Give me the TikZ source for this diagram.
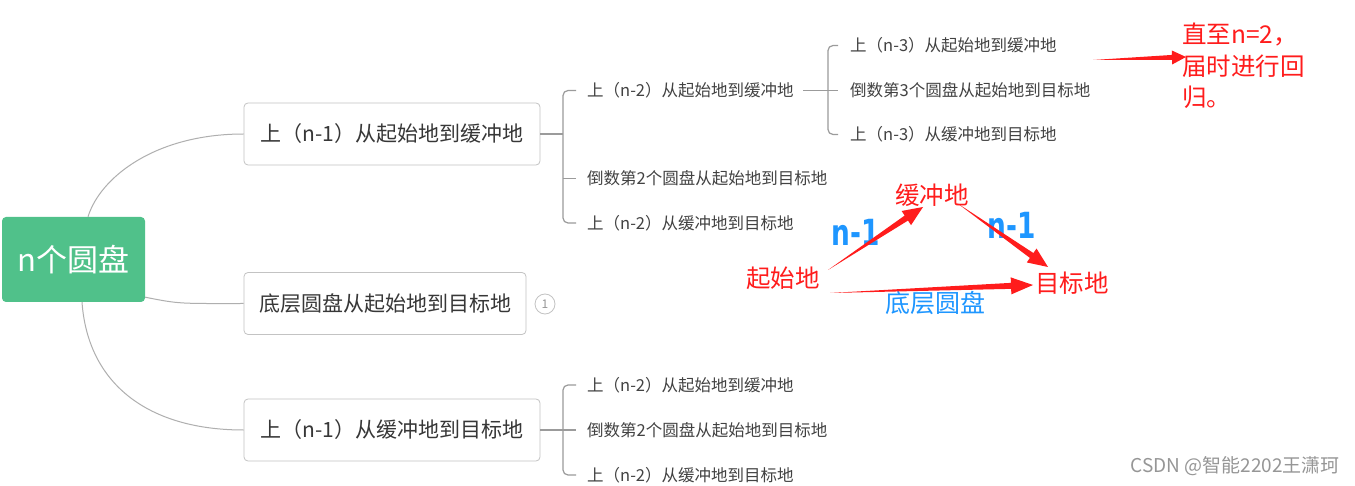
\documentclass[tikz,border=0pt]{standalone}
\usepackage{fontspec}
\setmainfont{Noto Sans CJK SC}
\newfontfamily\handfont{DejaVu Sans}
\usetikzlibrary{calc}
\definecolor{rootgreen}{RGB}{80,193,138}
\definecolor{boxborder}{RGB}{195,195,195}
\definecolor{linegray}{RGB}{175,175,175}
\definecolor{brgray}{RGB}{155,155,155}
\definecolor{txtdark}{RGB}{55,55,55}
\definecolor{txtmid}{RGB}{66,66,66}
\definecolor{annred}{RGB}{255,28,28}
\definecolor{annblue}{RGB}{30,150,255}
\definecolor{wmgray}{RGB}{150,150,150}
\newcommand\fs[1]{\fontsize{#1}{#1}\selectfont}
% tapered arrow: #1 tail, #2 tip, #3 half shaft width, #4 half head width, #5 head length
\newcommand\taperarrow[5]{%
  \coordinate (tH) at ($(#2)!#5!(#1)$);
  \fill[annot] (#1) -- ($(tH)!#3!90:(#2)$) -- ($(tH)!#4!90:(#2)$) -- (#2)
     -- ($(tH)!#4!-90:(#2)$) -- ($(tH)!#3!-90:(#2)$) -- cycle;}
\begin{document}
\begin{tikzpicture}[x=1pt,y=-1pt,
  rootbox/.style={fill=rootgreen, rounded corners=4pt, text=white, font=\fs{31},
    inner sep=0pt, minimum width=143pt, minimum height=85pt},
  topic/.style={draw=boxborder, line width=0.8pt, rounded corners=4pt, fill=white,
    text=txtdark, font=\fs{21}, inner sep=0pt, minimum height=62pt},
  sub/.style={anchor=west, text=txtmid, font=\fs{16.5}, inner sep=0pt},
  curve/.style={draw=linegray, line width=1pt},
  br/.style={draw=brgray, line width=1.2pt},
  annot/.style={fill=annred},
  redtxt/.style={text=annred, font=\fs{24.5}, inner sep=0pt},
  bluetxt/.style={text=annblue, inner sep=0pt, font=\handfont\bfseries\fs{24}},
  badge/.style={circle, draw=boxborder, line width=0.8pt, text=wmgray, font=\fs{12},
    inner sep=0pt, minimum size=20pt},
]
\useasboundingbox (0,0) rectangle (1355,486);
\fill[white] (0,0) rectangle (1355,486);

% root and main topics
\node[rootbox] (root) at (73.5,259.5) {n个圆盘};
\node[topic, minimum width=296pt] (box1) at (392,134) {上（n-1）从起始地到缓冲地};
\node[topic, minimum width=282pt] (box2) at (385,303.5) {底层圆盘从起始地到目标地};
\node[topic, minimum width=296pt] (box3) at (392,430) {上（n-1）从缓冲地到目标地};
\node[badge] (bdg) at (545,304) {1};

% curves
\draw[curve] ([xshift=14.5pt]root.north) .. controls +(12,-39) and +(-89,0) .. (box1.west);
\draw[curve] ([yshift=5pt]root.south east) .. controls +(35,7) and +(-64,0) .. (box2.west);
\draw[curve] ([xshift=8.5pt]root.south) .. controls +(6,83) and +(-94,0) .. (box3.west);

% level 2 under box1
\node[sub] (l2a) at (587,90.5) {上（n-2）从起始地到缓冲地};
\node[sub] (l2b) at (587,178.5) {倒数第2个圆盘从起始地到目标地};
\node[sub] (l2c) at (587,223) {上（n-2）从缓冲地到目标地};
\draw[br] (box1.east) -- ($(box1.east -| l2a.west)+(-24,0)$);
\draw[br, rounded corners=5pt] ([xshift=-11pt]l2a.west) -| ([xshift=-24pt]l2c.west) -- ([xshift=-11pt]l2c.west);
\draw[br] ([xshift=-24pt]l2b.west) -- ([xshift=-11pt]l2b.west);

% level 3
\node[sub] (l3a) at (850,45.5) {上（n-3）从起始地到缓冲地};
\node[sub] (l3b) at (850,90.5) {倒数第3个圆盘从起始地到目标地};
\node[sub] (l3c) at (850,134.5) {上（n-3）从缓冲地到目标地};
\draw[br] ([xshift=-47pt]l3b.west) -- ([xshift=-12pt]l3b.west);
\draw[br, rounded corners=5pt] ([xshift=-12pt]l3a.west) -| ([xshift=-22pt]l3b.west) |- ([xshift=-12pt]l3c.west);

% level 2 under box3
\node[sub] (l2d) at (587,385) {上（n-2）从起始地到缓冲地};
\node[sub] (l2e) at (587,430) {倒数第2个圆盘从起始地到目标地};
\node[sub] (l2f) at (587,475) {上（n-2）从缓冲地到目标地};
\draw[br] (box3.east) -- ($(box3.east -| l2e.west)+(-24,0)$);
\draw[br, rounded corners=5pt] ([xshift=-11pt]l2d.west) -| ([xshift=-24pt]l2f.west) -- ([xshift=-11pt]l2f.west);
\draw[br] ([xshift=-24pt]l2e.west) -- ([xshift=-11pt]l2e.west);

% annotation note
\node[redtxt, anchor=north west, align=left, font=\fontsize{24.5}{31.5}\selectfont] (note) at (1182,23)
  {直至n=2，\\届时进行回\\归。};
\coordinate (n4s) at ($(note.north west)+(-89,37)$);
\coordinate (n4e) at ($(note.north west)+(4,34)$);
\taperarrow{n4s}{n4e}{2.5pt}{7pt}{14pt}

% triangle annotation
\node[redtxt] (buf) at (932,195) {缓冲地};
\node[redtxt] (src) at (783,278) {起始地};
\node[redtxt] (dst) at (1072,283) {目标地};
\node[bluetxt, font=\fs{25}] (bottom) at (935,303) {底层圆盘};
\node[bluetxt] (nlA) at (856,232) {\scalebox{1.1}[1.5]{n-1}};
\node[bluetxt] (nlB) at (1012,225) {\scalebox{1.1}[1.5]{n-1}};

\coordinate (a1s) at ($(src)+(45,-8)$);
\coordinate (a1e) at ($(buf)+(-9,12)$);
\taperarrow{a1s}{a1e}{3pt}{8.5pt}{20pt}
\coordinate (a2s) at ($(buf)+(25,8)$);
\coordinate (a2e) at ($(dst)+(-24,-16)$);
\taperarrow{a2s}{a2e}{3pt}{8.5pt}{20pt}
\coordinate (a3s) at ($(src)+(47,15)$);
\coordinate (a3e) at ($(dst)+(-39,2)$);
\taperarrow{a3s}{a3e}{3pt}{8.5pt}{22pt}

% watermark
\node[anchor=east, text=wmgray, font=\fs{19}, inner sep=0pt] (wm) at (1340,466) {CSDN @智能2202王潇珂};
\end{tikzpicture}
\end{document}
